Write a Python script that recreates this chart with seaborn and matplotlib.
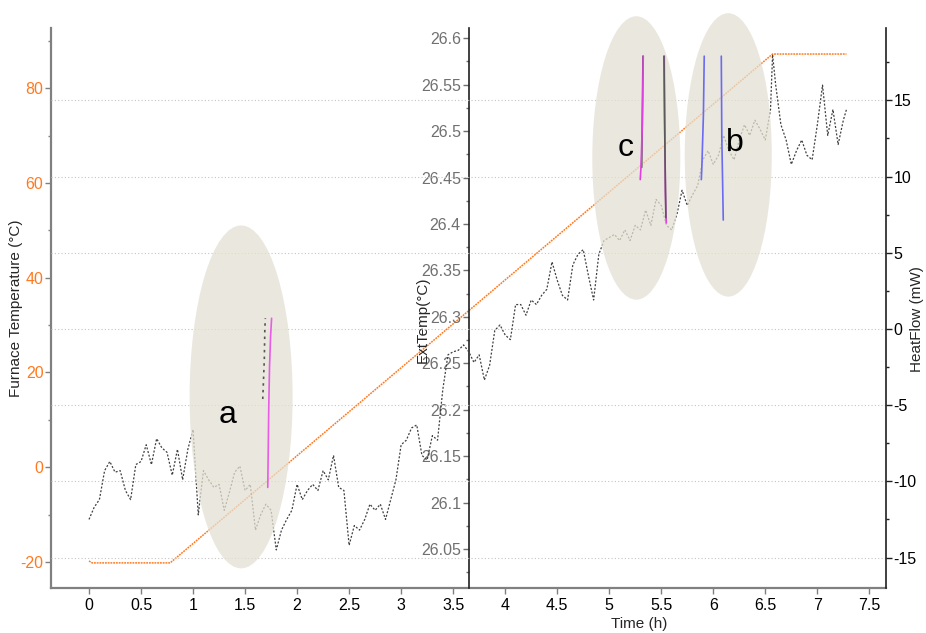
import numpy as np
import pandas as pd
import matplotlib
matplotlib.use("Agg")
import matplotlib.pyplot as plt
import seaborn as sns
from matplotlib.patches import Ellipse
from matplotlib.ticker import MultipleLocator, FuncFormatter, FixedLocator

# ---------------------------------------------------------------- data
# Furnace programme (left axis, °C): hold, ramp, hold
furnace_time = [0.0, 0.03, 0.78, 6.57, 7.28]
furnace_temp = [-19.8, -20.2, -20.2, 87.2, 87.2]

# Heat-flow trace (right axis, mW)
heat_time = list(np.round(np.arange(0.0, 6.551, 0.05), 2)) + [
    6.57, 6.60, 6.65, 6.70, 6.75, 6.80, 6.85, 6.90, 6.95,
    7.00, 7.05, 7.10, 7.15, 7.20, 7.25, 7.28]
heat_flow = [
    -12.5, -11.7, -11.2, -9.3, -8.7, -9.4, -9.3, -10.6, -11.2, -8.9,
    -8.7, -7.6, -8.9, -7.2, -7.8, -8.1, -9.6, -7.9, -9.9, -7.9,
    -6.6, -12.2, -9.3, -9.9, -10.4, -10.2, -11.9, -10.7, -9.4, -9.0,
    -10.6, -10.2, -13.2, -12.2, -11.5, -11.9, -14.5, -13.2, -12.5, -11.9,
    -10.2, -11.2, -10.6, -10.2, -10.6, -9.3, -9.9, -8.3, -10.4, -10.6,
    -14.2, -12.9, -13.2, -12.5, -11.5, -11.9, -11.5, -12.5, -11.2, -9.9,
    -7.6, -7.3, -6.5, -6.3, -8.3, -8.6, -7.0, -7.3, -4.0, -1.7,
    -1.5, -1.4, -1.05, -1.5, -2.2, -1.7, -3.35, -2.4, -0.1, 0.26,
    -0.4, -0.7, 1.6, 1.6, 0.9, 1.9, 1.6, 2.2, 2.6, 4.4,
    3.2, 2.2, 1.9, 4.2, 4.9, 5.2, 3.5, 1.9, 4.9, 5.8,
    6.0, 6.2, 5.8, 6.5, 5.8, 6.8, 6.5, 7.8, 6.8, 8.5,
    8.1, 6.8, 6.5, 7.5, 9.1, 8.1, 8.8, 9.4, 11.1, 11.7,
    10.8, 11.4, 12.7, 11.7, 11.1, 12.4, 13.4, 12.7, 13.7, 13.1,
    12.4, 14.4,
    18.0, 16.0, 13.4, 12.4, 10.8, 11.7, 12.4, 11.4, 11.1,
    13.4, 16.0, 12.7, 14.4, 12.1, 13.7, 14.4]

# Fast transients (right axis, mW)
spike_a_pink_t = [1.718, 1.722, 1.728, 1.735, 1.745, 1.755]
spike_a_pink_v = [-10.4, -8.3, -5.0, -2.5, -0.5, 0.7]
spike_a_dark_t = [1.67, 1.685, 1.69, 1.695]
spike_a_dark_v = [-4.6, -2.0, 0.0, 0.7]

spike_c1_pink_t = [5.298, 5.305, 5.318, 5.327]
spike_c1_pink_v = [9.8, 10.6, 13.4, 17.9]
spike_c1_dark_t = [5.312, 5.320, 5.324]
spike_c1_dark_v = [10.6, 15.0, 17.9]
spike_c2_pink_t = [5.548, 5.540, 5.532, 5.529]
spike_c2_pink_v = [6.96, 9.0, 14.0, 17.9]
spike_c2_dark_t = [5.544, 5.535, 5.526]
spike_c2_dark_v = [7.3, 12.0, 17.9]

spike_b1_t = [5.885, 5.890, 5.905, 5.913]
spike_b1_v = [9.8, 10.6, 14.0, 17.9]
spike_b2_t = [6.096, 6.090, 6.082, 6.077]
spike_b2_v = [7.15, 9.5, 12.5, 17.9]

# Highlighted regions: label, centre (h, mW), width (h), height (mW)
region_labels = ["a", "c", "b"]
region_centre_t = [1.462, 5.26, 6.144]
region_centre_v = [-4.46, 11.22, 11.42]
region_width_h = [0.99, 0.846, 0.837]
region_height_mw = [22.5, 18.6, 18.6]
region_text_t = [1.327, 5.154, 6.21]
region_text_v = [-5.64, 11.88, 12.2]

# Axis setup
x_ticks = [0, 0.5, 1, 1.5, 2, 2.5, 3, 3.5, 4, 4.5, 5, 5.5, 6, 6.5, 7, 7.5]
furnace_ticks = [-20, 0, 20, 40, 60, 80]
ext_ticks = [26.05, 26.1, 26.15, 26.2, 26.25, 26.3, 26.35, 26.4, 26.45,
             26.5, 26.55, 26.6]
heat_ticks = [-15, -10, -5, 0, 5, 10, 15]

# ---------------------------------------------------------------- style
sns.set_style("white")
plt.rcParams["font.family"] = ["Liberation Sans", "DejaVu Sans"]

ORANGE = "#ff7a1f"
GREY_SPINE = "#808080"
TICK_SIZE = 11.5

fig = plt.figure(figsize=(9.26, 6.33), dpi=100)
ax = fig.add_axes([0.0551, 0.0711, 0.9017, 0.8847])
ax_ext = ax.twinx()
ax_hf = ax.twinx()

# ---------------------------------------------------------------- furnace
sns.lineplot(x=furnace_time, y=furnace_temp, ax=ax, color=ORANGE,
             linewidth=1.1, linestyle=(0, (1.2, 0.6)), estimator=None,
             sort=False)
ax.set_xlim(-0.365, 7.66)
ax.set_ylim(-25.5, 92.7)

# ---------------------------------------------------------------- heat flow
sns.lineplot(x=heat_time, y=heat_flow, ax=ax_hf, color="#404040",
             linewidth=0.9, linestyle=(0, (1.6, 1.4)), estimator=None,
             sort=False, zorder=2)

for (cx, cy, w, h) in zip(region_centre_t, region_centre_v,
                          region_width_h, region_height_mw):
    ax_hf.add_patch(Ellipse((cx, cy), w, h, facecolor="#e4e0d3",
                            edgecolor="none", alpha=0.75, zorder=3,
                            clip_on=False))

spikes = [
    (spike_a_dark_t, spike_a_dark_v, "#555555", (0, (1.5, 2.5))),
    (spike_a_pink_t, spike_a_pink_v, "#e85ce8", "-"),
    (spike_c1_dark_t, spike_c1_dark_v, "#5a5a5a", "-"),
    (spike_c1_pink_t, spike_c1_pink_v, "#e040e0", "-"),
    (spike_c2_pink_t, spike_c2_pink_v, "#e040e0", "-"),
    (spike_c2_dark_t, spike_c2_dark_v, "#5a5a5a", "-"),
    (spike_b1_t, spike_b1_v, "#6a6af2", "-"),
    (spike_b2_t, spike_b2_v, "#6a6af2", "-"),
]
for t, v, c, ls in spikes:
    sns.lineplot(x=t, y=v, ax=ax_hf, color=c, linewidth=1.2, linestyle=ls,
                 estimator=None, sort=False, zorder=4)

for lab, tx, ty in zip(region_labels, region_text_t, region_text_v):
    ax_hf.text(tx, ty, lab, fontsize=23, ha="center", va="center",
               color="black", zorder=5)

ax_hf.set_ylim(-17.0, 19.75)
ax_ext.set_ylim(26.008, 26.611)

# ---------------------------------------------------------------- axes look
fmt = FuncFormatter(lambda v, p: f"{v:g}")

# host: furnace temperature (left) and time (bottom)
for s in ["top", "right"]:
    ax.spines[s].set_visible(False)
for s in ["left", "bottom"]:
    ax.spines[s].set_color(GREY_SPINE)
    ax.spines[s].set_linewidth(1.6)
ax.xaxis.set_major_locator(FixedLocator(x_ticks))
ax.xaxis.set_minor_locator(MultipleLocator(0.25))
ax.xaxis.set_major_formatter(fmt)
ax.yaxis.set_major_locator(FixedLocator(furnace_ticks))
ax.yaxis.set_minor_locator(MultipleLocator(10))
ax.yaxis.set_major_formatter(fmt)
ax.tick_params(axis="both", which="both", direction="out", color=GREY_SPINE,
               width=1)
ax.tick_params(axis="both", which="major", length=4, labelsize=TICK_SIZE,
               pad=1.5)
ax.tick_params(axis="both", which="minor", length=2.5)
ax.tick_params(axis="x", which="major", pad=3)
ax.tick_params(axis="y", labelcolor=ORANGE, left=True)
ax.tick_params(axis="x", labelcolor="black", bottom=True)
ax.set_xlabel("Time (h)", fontsize=11)
ax.xaxis.set_label_coords(0.705, -0.052)
ax.set_ylabel("Furnace Temperature (°C)", fontsize=11)
ax.yaxis.set_label_coords(-0.034, 0.5)

# ExtTemp axis placed in the middle of the plot
for s in ["top", "bottom", "right"]:
    ax_ext.spines[s].set_visible(False)
ax_ext.spines["left"].set_visible(True)
ax_ext.spines["left"].set_position(("axes", 0.5))
ax_ext.spines["left"].set_color("#202020")
ax_ext.spines["left"].set_linewidth(1.2)
ax_ext.yaxis.set_ticks_position("left")
ax_ext.yaxis.set_label_position("left")
ax_ext.yaxis.set_major_locator(FixedLocator(ext_ticks))
ax_ext.yaxis.set_minor_locator(MultipleLocator(0.025))
ax_ext.yaxis.set_major_formatter(fmt)
ax_ext.tick_params(axis="y", which="both", direction="out", color="#707070",
                   labelcolor="#707070", width=1)
ax_ext.tick_params(axis="y", which="major", length=4, labelsize=TICK_SIZE,
                   pad=1.5)
ax_ext.tick_params(axis="y", which="minor", length=2.5)
ax_ext.set_ylabel("ExtTemp(°C)", fontsize=11)
ax_ext.yaxis.set_label_coords(0.453, 0.479)

# HeatFlow axis on the right
for s in ["top", "bottom", "left"]:
    ax_hf.spines[s].set_visible(False)
ax_hf.spines["right"].set_color("#202020")
ax_hf.spines["right"].set_linewidth(1.2)
ax_hf.yaxis.set_major_locator(FixedLocator(heat_ticks))
ax_hf.yaxis.set_minor_locator(MultipleLocator(2.5))
ax_hf.yaxis.set_major_formatter(fmt)
ax_hf.tick_params(axis="y", which="both", direction="out", color="#202020",
                  labelcolor="black", width=1)
ax_hf.tick_params(axis="y", which="major", length=4, labelsize=TICK_SIZE,
                  pad=1.5)
ax_hf.tick_params(axis="y", which="minor", length=2.5)
ax_hf.set_ylabel("HeatFlow (mW)", fontsize=11)
ax_hf.yaxis.set_label_coords(1.0287, 0.48)
ax_hf.yaxis.grid(True, which="major", color="#c4c4c4", linewidth=0.8,
                 linestyle=(0, (1, 2)))
ax_hf.set_axisbelow(True)

fig.savefig("out.png", dpi=100)
